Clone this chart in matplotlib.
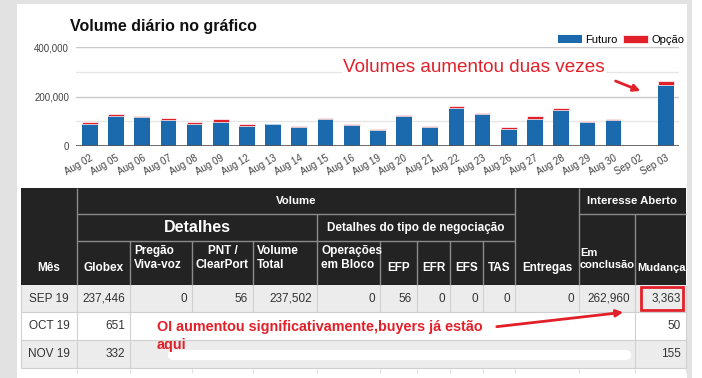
import matplotlib
matplotlib.use('Agg')
import matplotlib.pyplot as plt
from matplotlib.patches import Rectangle, FancyBboxPatch, FancyArrowPatch
import numpy as np

plt.rcParams['font.family'] = ['Liberation Sans', 'DejaVu Sans']

# volume diario
dias = ['Aug 02', 'Aug 05', 'Aug 06', 'Aug 07', 'Aug 08', 'Aug 09', 'Aug 12', 'Aug 13',
        'Aug 14', 'Aug 15', 'Aug 16', 'Aug 19', 'Aug 20', 'Aug 21', 'Aug 22', 'Aug 23',
        'Aug 26', 'Aug 27', 'Aug 28', 'Aug 29', 'Aug 30', 'Sep 02', 'Sep 03']
futuro = [89000, 120000, 117000, 106000, 89000, 98000, 82000, 88000, 77000, 109000, 86000,
          63000, 121000, 78000, 155000, 128000, 69000, 111000, 146000, 97000, 104000, 0, 245000]
opcao = [9000, 8000, 5000, 6000, 9000, 12000, 6000, 2000, 5000, 5000, 3000,
         4000, 5000, 4000, 7000, 4000, 7000, 9000, 8000, 6000, 7000, 0, 16000]

# tabela
meses = ['SEP 19', 'OCT 19', 'NOV 19']
colunas = ['Globex', 'Pregão\nViva-voz', 'PNT /\nClearPort', 'Volume\nTotal',
           'Operações\nem Bloco', 'EFP', 'EFR', 'EFS', 'TAS', 'Entregas',
           'Em\nconclusão', 'Mudança']
valores = [
    ['237,446', '0', '56', '237,502', '0', '56', '0', '0', '0', '0', '262,960', '3,363'],
    ['651', '', '', '', '', '', '', '', '', '', '', '50'],
    ['332', '', '', '', '', '', '', '', '', '', '', '155'],
]

vermelho = '#e2202a'
azul = '#1b6aae'
escuro = '#232323'

fig = plt.figure(figsize=(7.02, 3.78), dpi=100)
fig.patch.set_facecolor('white')

# fundo em coordenadas de pixel
bg = fig.add_axes([0, 0, 1, 1])
bg.set_xlim(0, 702)
bg.set_ylim(378, 0)
bg.axis('off')
bg.add_patch(Rectangle((0, 0), 17, 378, color='#e2e2e2', lw=0))
bg.add_patch(Rectangle((17, 0), 675, 4, color='#e2e2e2', lw=0))
bg.add_patch(Rectangle((687, 0), 5, 378, color='#e2e2e2', lw=0))

# ---- grafico de barras ----
ax = fig.add_axes([76 / 702, (378 - 146) / 378, (679 - 76) / 702, (146 - 47) / 378])
ax.patch.set_alpha(0)
x = np.arange(len(dias))
ax.bar(x, futuro, width=0.6, color=azul, lw=0, label='Futuro', zorder=3)
ax.bar(x, opcao, width=0.6, bottom=futuro, color=vermelho, edgecolor='white', lw=0.5,
       label='Opção', zorder=3)
ax.set_xlim(-0.53, 22.5)
ax.set_ylim(0, 400000)
for v in [100000, 300000]:
    ax.axhline(v, color='#e6e6e6', lw=1, zorder=1)
for v in [200000, 400000]:
    ax.axhline(v, color='#c9c9c9', lw=1, zorder=1)
ax.axhline(0, color='#555555', lw=1.2, zorder=4)
ax.set_yticks([0, 200000, 400000])
ax.set_yticklabels(['0', '200,000', '400,000'], fontsize=7, color='#444444')
ax.set_xticks(x)
ax.set_xticklabels(dias, rotation=30, ha='right', rotation_mode='anchor',
                   fontsize=7, color='#444444')
ax.tick_params(length=0, pad=5)
for s in ax.spines.values():
    s.set_visible(False)
ax.legend(loc='lower right', bbox_to_anchor=(684 / 702, 1 - 45 / 378),
          bbox_transform=fig.transFigure, ncol=2, frameon=False, fontsize=8,
          handlelength=2.2, handleheight=0.7, columnspacing=0.5, handletextpad=0.3,
          borderpad=0, borderaxespad=0)

fig.text(70 / 702, 1 - 27 / 378, 'Volume diário no gráfico', fontsize=11.5,
         weight='bold', va='center', color='#111111')
fig.text(343 / 702, 1 - 68 / 378, 'Volumes aumentou duas vezes', fontsize=13.6,
         color=vermelho, va='center', zorder=5,
         bbox=dict(facecolor='white', edgecolor='none', pad=1))
fig.patches.append(FancyArrowPatch(
    (613, 80), (643, 92), transform=bg.transData, figure=fig,
    arrowstyle='-|>', mutation_scale=10, color=vermelho, lw=2))

# ---- tabela ----
cx = [21, 77, 130, 192, 253, 317, 380, 417, 450, 483, 515, 579, 635, 686]
hy = [188, 214, 241, 285]
ry = [285, 312, 340, 368]
linha_h = '#8a8a8a'
linha_d = '#d0d0d0'

bg.add_patch(Rectangle((cx[0], hy[0]), cx[-1] - cx[0], hy[-1] - hy[0], color=escuro, lw=0))
bg.hlines(214, 77, 515, color=linha_h, lw=1)
bg.hlines(214, 579, 686, color=linha_h, lw=1)
bg.hlines(241, 77, 515, color=linha_h, lw=1)
bg.vlines([77, 515, 579], 188, 285, color=linha_h, lw=1)
bg.vlines([317, 635], 214, 285, color=linha_h, lw=1)
bg.vlines([130, 192, 253, 380, 417, 450, 483], 241, 285, color=linha_h, lw=1)

cab = dict(color='white', weight='bold', va='center')
bg.text(49, 268, 'Mês', ha='center', fontsize=8.5, **cab)
bg.text(296, 201, 'Volume', ha='center', fontsize=8.2, **cab)
bg.text(197, 228, 'Detalhes', ha='center', fontsize=11.5, **cab)
bg.text(416, 228, 'Detalhes do tipo de negociação', ha='center', fontsize=8.5, **cab)
bg.text(632, 201, 'Interesse Aberto', ha='center', fontsize=8.2, **cab)
centro = [True, False, True, False, False, True, True, True, True, True, False, True]
for i, nome in enumerate(colunas):
    l, r = cx[i + 1], cx[i + 2]
    yb = 268 if '\n' not in nome else 258
    fs = 8.5
    if i >= 10:
        fs = 8
    if nome.startswith('Em\n'):
        yb = 259
        bg.text(l + 1, yb, nome, ha='left', linespacing=1.15, fontsize=fs, **cab)
    elif centro[i]:
        bg.text((l + r) / 2 + (1 if i == 11 else 0), yb, nome, ha='center',
                multialignment='center', linespacing=1.15, fontsize=fs, **cab)
    else:
        bg.text(l + 4, yb, nome, ha='left', linespacing=1.15, fontsize=fs, **cab)

fundos = ['#ececec', 'white', '#ececec']
for j, mes in enumerate(meses):
    y0, y1 = ry[j], ry[j + 1]
    bg.add_patch(Rectangle((cx[0], y0), cx[-1] - cx[0], y1 - y0, color=fundos[j], lw=0))
    bg.text(49, (y0 + y1) / 2, mes, ha='center', va='center', fontsize=8.5, color='#333333')
    for i, v in enumerate(valores[j]):
        if v:
            bg.text(cx[i + 2] - 5, (y0 + y1) / 2, v, ha='right', va='center',
                    fontsize=8.5, color='#333333')

bg.vlines(cx, 285, 312, color=linha_d, lw=0.8)
bg.vlines([21, 77, 130, 635, 686], 312, 368, color=linha_d, lw=0.8)
bg.vlines(cx[1:], 368, 373, color='#e4e4e4', lw=0.8)
bg.hlines([312, 340, 368], 21, 686, color=linha_d, lw=0.8)
bg.add_patch(Rectangle((131, 313), 503, 27, color='white', lw=0))
bg.add_patch(FancyBboxPatch((168, 350), 463, 10, boxstyle='round,pad=0,rounding_size=5',
                            color='white', lw=0))

bg.add_patch(Rectangle((641, 287), 42, 23, fill=False, edgecolor=vermelho, lw=2))
bg.text(157, 327, 'OI aumentou significativamente,buyers já estão', color=vermelho,
        weight='bold', fontsize=10.4, va='center')
bg.text(157, 345, 'aqui', color=vermelho, weight='bold', fontsize=10.4, va='center')
bg.annotate('', xy=(626, 312), xytext=(494, 327),
            arrowprops=dict(arrowstyle='-|>', color=vermelho, lw=2, mutation_scale=10))

fig.savefig('out.png', dpi=100)
